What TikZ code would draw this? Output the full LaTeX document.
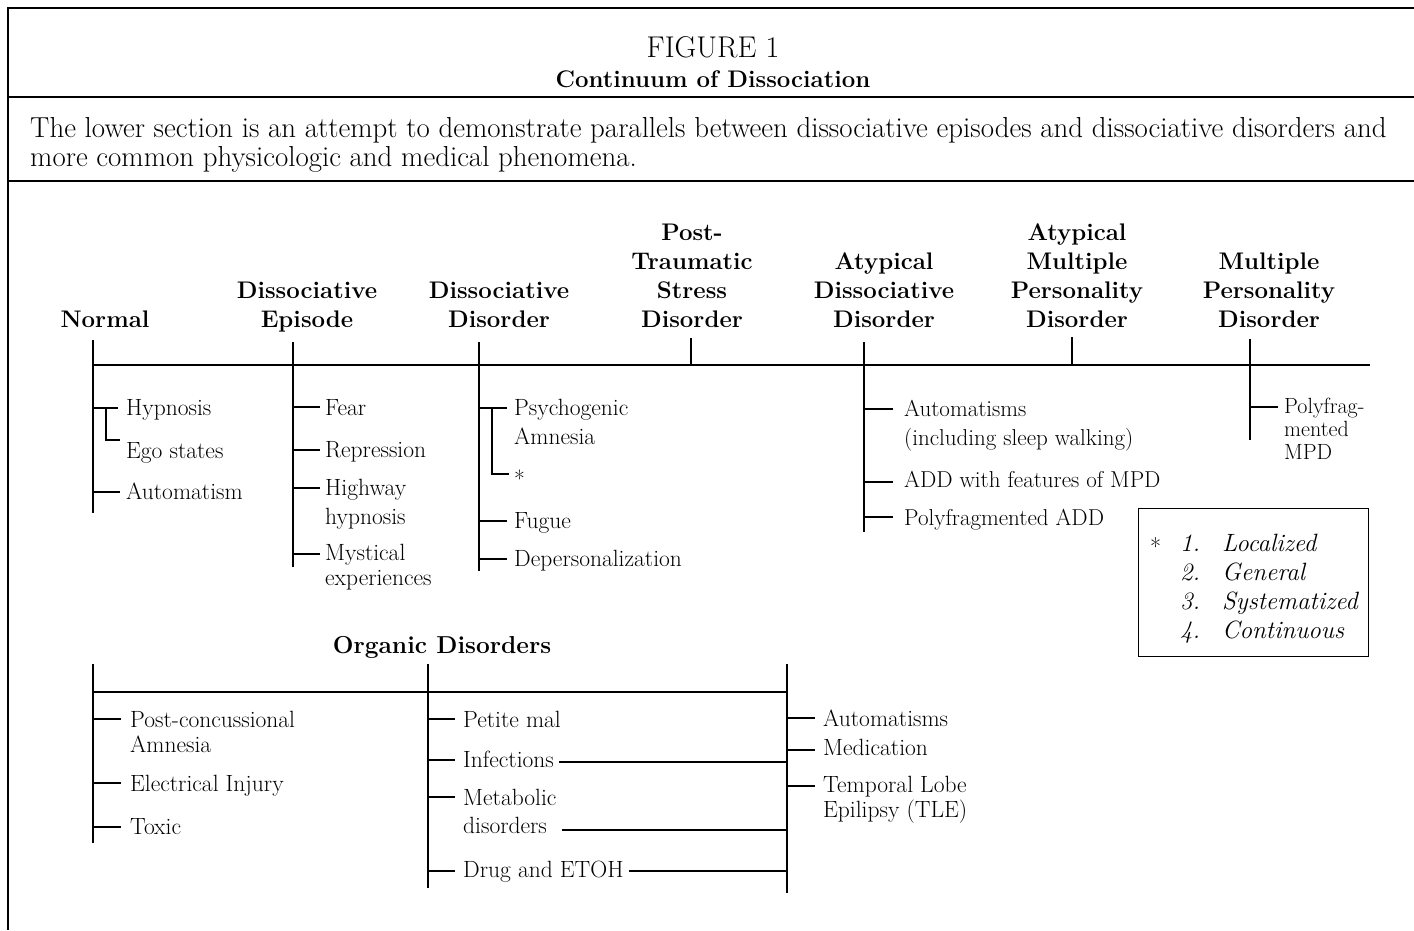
\documentclass[tikz,border=0pt]{standalone}
\usetikzlibrary{calc}
\begin{document}
\begin{tikzpicture}[x=1pt,y=-1pt,
  frame/.style={line width=1.4pt},
  axis/.style={line width=2.4pt},
  br/.style={line width=1.3pt},
  itm/.style={anchor=base west,inner sep=0pt,align=left,font=\fontsize{23.5}{29}\selectfont},
  itmt/.style={anchor=base west,inner sep=0pt,align=left,font=\fontsize{23.5}{24.5}\selectfont},
  hd/.style={anchor=base,inner sep=0pt,align=center,font=\bfseries\fontsize{24}{29}\selectfont},
  legend/.style={draw,line width=1pt}
]
\useasboundingbox (0,0) rectangle (1414,930);
% frame
\draw[frame] (8,930) -- (8,8) -- (1414,8);
\draw[frame] (8,97) -- (1414,97);
\draw[frame] (8,181) -- (1414,181);
% titles
\node[anchor=base,inner sep=0pt,font=\fontsize{30}{32}\selectfont] (fig) at (713,57) {FIGURE 1};
\node[anchor=base,inner sep=0pt,font=\bfseries\fontsize{24}{29}\selectfont] (cont) at (713,87) {Continuum of Dissociation};
\node[anchor=base west,inner sep=0pt,align=left,font=\fontsize{28.9}{29}\selectfont] (desc) at (30,166)
  {The lower section is an attempt to demonstrate parallels between dissociative episodes and dissociative disorders and\\more common physicologic and medical phenomena.};

% main axis
\coordinate (axL) at (93,365);
\coordinate (axR) at (1370,365);
\draw[axis] (axL) -- (axR);
\coordinate (nT) at (93,340);   \coordinate (nB) at (93,513);
\coordinate (eT) at (293,342);  \coordinate (eB) at (293,567);
\coordinate (dT) at (479,342);  \coordinate (dB) at (479,571);
\coordinate (pT) at (691,338);  \coordinate (pB) at (691,365);
\coordinate (aT) at (864,342);  \coordinate (aB) at (864,532);
\coordinate (amT) at (1072,337); \coordinate (amB) at (1072,365);
\coordinate (mT) at (1250,339); \coordinate (mB) at (1250,440);
\foreach \t in {n,e,d,p,a,am,m} \draw[axis] (\t T) -- (\t B);

% headers (anchored at the baseline of their last line)
\node[hd] (hN) at (105,327) {Normal};
\node[hd] (hE) at (307,327) {Dissociative\\Episode};
\node[hd] (hD) at (499,327) {Dissociative\\Disorder};
\node[hd] (hP) at (692,327) {Post-\\Traumatic\\Stress\\Disorder};
\node[hd] (hA) at (884,327) {Atypical\\Dissociative\\Disorder};
\node[hd] (hAM) at (1077,327) {Atypical\\Multiple\\Personality\\Disorder};
\node[hd] (hM) at (1269,327) {Multiple\\Personality\\Disorder};

% Normal column
\node[itm] (hyp) at (126,415) {Hypnosis};
\node[itm] (ego) at (126,458) {Ego states};
\node[itm] (aut) at (126,499) {Automatism};
\draw[br] (93,408) -- (118,408);
\draw[br] (106,408) -- (106,440) -- (120,440);
\draw[br] (93,492) -- (120,492);

% Dissociative episode column
\node[itm] (fear) at (325,415) {Fear};
\node[itm] (rep) at (325,457) {Repression};
\node[itm] (hwy) at (325,524) {Highway\\hypnosis};
\node[itmt] (mys) at (325,585) {Mystical\\experiences};
\draw[br] (293,407) -- (320,407);
\draw[br] (293,450) -- (320,450);
\draw[br] (293,488) -- (320,488);
\draw[br] (293,554) -- (320,554);

% Dissociative disorder column
\node[itm] (psy) at (514,444) {Psychogenic\\Amnesia};
\node[itm] (ast) at (514,487) {*};
\node[itm] (fug) at (514,528) {Fugue};
\node[itm] (dep) at (514,566) {Depersonalization};
\draw[br] (479,408) -- (507,408);
\draw[br] (492,408) -- (492,474) -- (509,474);
\draw[br] (479,521) -- (507,521);
\draw[br] (479,559) -- (507,559);

% Atypical dissociative disorder column
\node[itm,font=\fontsize{23}{29}\selectfont] (auts) at (904,445) {Automatisms\\(including sleep walking)};
\node[itm,font=\fontsize{23}{29}\selectfont] (addf) at (904,487) {ADD with features of MPD};
\node[itm,font=\fontsize{23}{29}\selectfont] (padd) at (904,525) {Polyfragmented ADD};
\draw[br] (864,409) -- (893,409);
\draw[br] (864,482) -- (893,482);
\draw[br] (864,517) -- (893,517);

% MPD column
\node[anchor=base west,inner sep=0pt,align=left,font=\fontsize{22}{23}\selectfont] (pmpd) at (1284,459) {Polyfrag-\\mented\\MPD};
\draw[br] (1250,407) -- (1278,407);

% legend
\node[legend,minimum width=230pt,minimum height=148pt,anchor=north west,inner sep=0pt] (leg) at (1138,508) {};
\node[itm,font=\fontsize{24}{29}\selectfont] (lstar) at (1150,555) {*};
\node[anchor=base west,inner sep=0pt,font=\itshape\fontsize{25}{29}\selectfont] (lst) at (1180,551)
  {\begin{tabular}[t]{@{}l@{\hspace{22pt}}l@{}}1.&Localized\\2.&General\\3.&Systematized\\4.&Continuous\end{tabular}};

% organic disorders
\node[hd,font=\bfseries\fontsize{24.5}{29}\selectfont] (org) at (442,653) {Organic Disorders};
\coordinate (oL) at (93,692);
\coordinate (oR) at (787,692);
\draw[axis] (oL) -- (oR);
\coordinate (o1T) at (93,664);  \coordinate (o1B) at (93,843);
\coordinate (o2T) at (428,664); \coordinate (o2B) at (428,888);
\coordinate (o3T) at (787,664); \coordinate (o3B) at (787,893);
\foreach \t in {o1,o2,o3} \draw[axis] (\t T) -- (\t B);

\node[itmt] (pca) at (130,752) {Post-concussional\\Amnesia};
\node[itm] (ele) at (130,791) {Electrical Injury};
\node[itm] (tox) at (130,834) {Toxic};
\draw[br] (93,719) -- (121,719);
\draw[br] (93,783) -- (121,783);
\draw[br] (93,827) -- (121,827);

\node[itm] (pet) at (463,727) {Petite mal};
\node[itm] (inf) at (463,767) {Infections};
\node[itm,font=\fontsize{23.5}{28}\selectfont] (met) at (463,833) {Metabolic\\disorders};
\node[itm] (drug) at (463,877) {Drug and ETOH};
\draw[br] (428,719) -- (455,719);
\draw[br] (428,760) -- (455,760);
\draw[br] (428,797) -- (455,797);
\draw[br] (428,871) -- (455,871);
\draw[br] ($(inf.base east)+(5,-5)$) -- ($(inf.base east -| o3T)+(0,-5)$);
\draw[br] ($(met.south east)+(5,-3.5)$) -- ($(met.south east -| o3T)+(0,-3.5)$);
\draw[br] ($(drug.base east)+(5,-6)$) -- ($(drug.base east -| o3T)+(0,-6)$);

\node[itm] (raut) at (823,726) {Automatisms};
\node[itm] (med) at (823,755) {Medication};
\node[itmt] (tle) at (823,817) {Temporal Lobe\\Epilipsy (TLE)};
\draw[br] (787,718) -- (815,718);
\draw[br] (787,750) -- (815,750);
\draw[br] (787,786) -- (815,786);
\end{tikzpicture}
\end{document}
